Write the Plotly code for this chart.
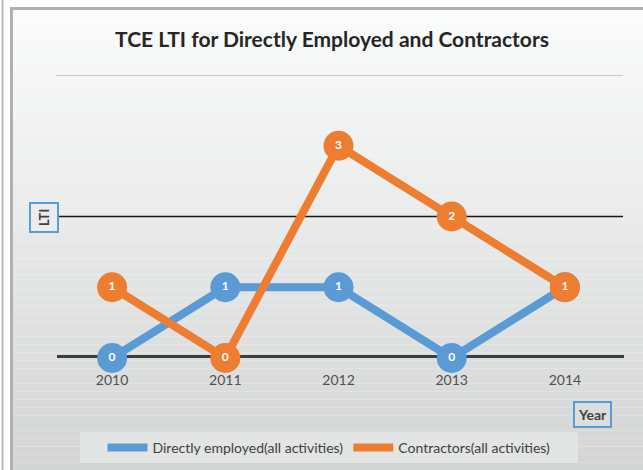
import plotly.graph_objects as go

years = ["2010", "2011", "2012", "2013", "2014"]
direct = [0, 1, 1, 0, 1]
contractors = [1, 0, 3, 2, 1]
series_names = ["Directly employed(all activities)", "Contractors(all activities)"]

BLUE = "#5B9BD5"
ORANGE = "#ED7D31"
FONT = "Lato, 'Open Sans', sans-serif"

W, H = 643, 470
fig = go.Figure()

for name, vals, col in [(series_names[0], direct, BLUE), (series_names[1], contractors, ORANGE)]:
    fig.add_trace(go.Scatter(
        x=years, y=vals, name=name, mode="lines+markers+text", showlegend=False,
        line=dict(color=col, width=8),
        marker=dict(size=30, color=col),
        text=[str(v) for v in vals], textposition="middle center",
        textfont=dict(color="white", size=12, family=FONT, weight="bold"),
        cliponaxis=False, hoverinfo="skip",
    ))
for name, col in [(series_names[0], BLUE), (series_names[1], ORANGE)]:
    fig.add_trace(go.Scatter(x=[None], y=[None], name=name, mode="lines",
                             line=dict(color=col, width=8), showlegend=True))

shapes = []
n = 60
for i in range(n):
    t = i / (n - 1)
    c = int(252 - t * (252 - 212))
    shapes.append(dict(type="rect", xref="paper", yref="paper",
                       x0=0, x1=1, y0=1 - (i + 1) / n, y1=1 - i / n,
                       fillcolor=f"rgb({c},{c+1},{c+1})", line=dict(width=0), layer="below"))
shapes.append(dict(type="rect", xref="paper", yref="paper", x0=0, x1=10 / W, y0=0, y1=1,
                   fillcolor="white", line=dict(width=0), layer="below"))
shapes.append(dict(type="rect", xref="paper", yref="paper", x0=0, x1=1, y0=1 - 7 / H, y1=1,
                   fillcolor="white", line=dict(width=0), layer="below"))
shapes.append(dict(type="line", xref="paper", yref="paper", x0=2.5 / W, x1=2.5 / W, y0=0, y1=1,
                   line=dict(color="#b5b5b5", width=2), layer="below"))
shapes.append(dict(type="line", xref="paper", yref="paper", x0=11.5 / W, x1=11.5 / W, y0=0, y1=1 - 7 / H,
                   line=dict(color="#b0b0b0", width=3), layer="below"))
shapes.append(dict(type="line", xref="paper", yref="paper", x0=10 / W, x1=1, y0=1 - 8.5 / H, y1=1 - 8.5 / H,
                   line=dict(color="#b0b0b0", width=3), layer="below"))
shapes.append(dict(type="rect", xref="paper", yref="paper", x0=80 / W, x1=578 / W,
                   y0=1 - 463 / H, y1=1 - 432 / H,
                   fillcolor="#e3e4e4", line=dict(width=0), layer="below"))
shapes.append(dict(type="line", xref="paper", yref="y", x0=55.5 / W, x1=623 / W, y0=4, y1=4,
                   line=dict(color="#b8b8b8", width=1.5), layer="below"))
shapes.append(dict(type="line", xref="paper", yref="y", x0=57 / W, x1=623 / W, y0=2, y1=2,
                   line=dict(color="#1a1a1a", width=1.5), layer="below"))
shapes.append(dict(type="line", xref="paper", yref="y", x0=57 / W, x1=624 / W, y0=0, y1=0,
                   line=dict(color="#3b3e41", width=6), layer="below"))

annotations = [
    dict(text="<b>LTI</b>", textangle=-90, xref="paper", yref="paper",
         x=44 / W, y=1 - 218 / H, xanchor="center", yanchor="middle", showarrow=False,
         font=dict(size=13, color="#404040", family=FONT),
         bordercolor=BLUE, borderwidth=2, borderpad=5, bgcolor="#ececec"),
    dict(text="<b>Year</b>", xref="paper", yref="paper",
         x=592 / W, y=1 - 414 / H, xanchor="center", yanchor="middle", showarrow=False,
         font=dict(size=14, color="#404040", family=FONT),
         bordercolor=BLUE, borderwidth=2, borderpad=3, bgcolor="#dcdddd"),
]

fig.update_layout(
    width=W, height=H,
    margin=dict(l=0, r=0, t=0, b=0),
    paper_bgcolor="white", plot_bgcolor="rgba(0,0,0,0)",
    title=dict(text="<b>TCE LTI for Directly Employed and Contractors</b>",
               x=332 / W, xanchor="center", y=1 - 40 / H, yanchor="middle",
               font=dict(size=21, color="#262626", family=FONT)),
    xaxis=dict(domain=[55.5 / W, 621.5 / W], range=[-0.5, 4.5], type="category",
               showgrid=False, zeroline=False, showline=False, ticks="",
               tickfont=dict(size=14, color="#505050", family=FONT), ticklabelstandoff=12),
    yaxis=dict(domain=[1 - 358 / H, 1 - 75 / H], range=[0, 4], showgrid=False,
               zeroline=False, showticklabels=False, showline=False),
    showlegend=True,
    legend=dict(orientation="h", x=329 / W, xanchor="center", y=1 - 448 / H, yanchor="middle",
                bgcolor="rgba(0,0,0,0)", font=dict(size=14, color="#404040", family=FONT),
                itemwidth=40),
    hovermode=False,
    shapes=shapes, annotations=annotations,
)

fig.write_html("out.html", config={"displayModeBar": False},
               post_script="document.body.style.margin='0';document.body.style.overflow='hidden';")
